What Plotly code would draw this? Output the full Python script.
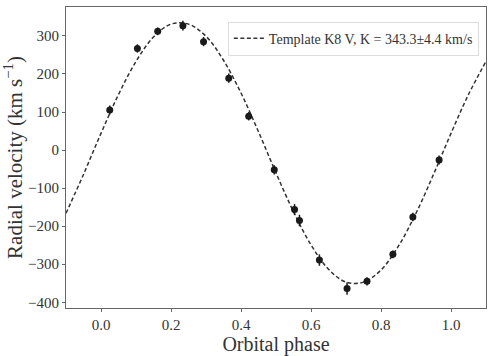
import plotly.graph_objects as go

# Observed radial velocities (phase-folded)
phase = [0.025, 0.104, 0.162, 0.234, 0.293, 0.365, 0.422, 0.495,
         0.553, 0.567, 0.624, 0.703, 0.760, 0.834, 0.891, 0.966]
rv = [105, 267, 312, 327, 285, 189, 89, -52,
      -156, -185, -289, -364, -345, -274, -176, -26]
rv_err = [12, 11, 10, 13, 12, 12, 11, 12,
          14, 15, 15, 16, 11, 10, 11, 12]

# Template fit curve
fit_phase = [-0.10, -0.05, 0.00, 0.05, 0.10, 0.15, 0.20, 0.25, 0.30, 0.35,
             0.40, 0.45, 0.50, 0.55, 0.60, 0.65, 0.70, 0.75, 0.80, 0.85,
             0.90, 0.95, 1.00, 1.05, 1.10]
fit_rv = [-166, -64, 44, 146, 233, 297, 331, 331, 299, 236,
          150, 48, -60, -162, -249, -313, -347, -347, -315, -252,
          -166, -64, 44, 146, 233]

SERIF = "Liberation Serif"
FRAME = "#666666"
TXT = "#333333"

fig = go.Figure()

fig.add_trace(
    go.Scatter(
        x=fit_phase,
        y=fit_rv,
        mode="lines",
        line=dict(color="#333333", width=1.5, dash="4px,2.5px", shape="spline"),
        name="Template K8 V, K = 343.3±4.4 km/s",
    )
)

fig.add_trace(
    go.Scatter(
        x=phase,
        y=rv,
        mode="markers",
        marker=dict(size=7, color="#1a1a1a"),
        error_y=dict(type="data", array=rv_err, width=0, thickness=1.5, color="#1a1a1a"),
        showlegend=False,
    )
)

axis_common = dict(
    showgrid=False,
    zeroline=False,
    showline=True,
    linecolor=FRAME,
    linewidth=1.2,
    mirror=True,
    ticks="outside",
    ticklen=3,
    tickcolor=FRAME,
    tickfont=dict(family=SERIF, size=15, color=TXT),
)

fig.update_layout(
    width=491,
    height=356,
    margin=dict(l=66, r=4, t=7, b=43),
    plot_bgcolor="white",
    paper_bgcolor="white",
    font=dict(family=SERIF, color=TXT),
    xaxis=dict(
        **axis_common,
        range=[-0.1, 1.1],
        tickvals=[0.0, 0.2, 0.4, 0.6, 0.8, 1.0],
        ticktext=["0.0", "0.2", "0.4", "0.6", "0.8", "1.0"],
        title=dict(text="Orbital phase", font=dict(family=SERIF, size=20, color=TXT), standoff=5),
    ),
    yaxis=dict(
        **axis_common,
        range=[-415, 376],
        tickvals=[-400, -300, -200, -100, 0, 100, 200, 300],
        title=dict(
            text="Radial velocity (km s<sup>−1</sup>)",
            font=dict(family=SERIF, size=21, color=TXT),
            standoff=5,
        ),
    ),
    legend=dict(
        x=0.983,
        y=0.951,
        xanchor="right",
        yanchor="top",
        bgcolor="white",
        bordercolor="#dddddd",
        borderwidth=1,
        font=dict(family=SERIF, size=14, color=TXT),
        itemwidth=30,
    ),
)

# the page body has a default 8px margin; drop it so the figure fills the window
fig.write_html(
    "out.html",
    config={"displayModeBar": False},
    post_script="document.body.style.margin='0';",
)
